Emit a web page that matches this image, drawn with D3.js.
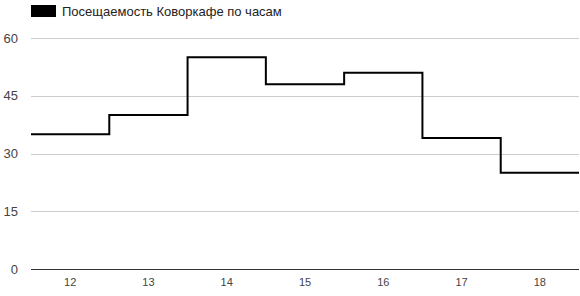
<!DOCTYPE html>
<html>
<head>
<meta charset="utf-8">
<script src="https://cdnjs.cloudflare.com/ajax/libs/d3/7.8.5/d3.min.js"></script>
<style>
  body { margin: 0; background: #fff; }
  svg { display: block; font-family: "Liberation Sans", Arial, sans-serif; }
</style>
</head>
<body>
<svg id="chart" width="580" height="296"></svg>
<script>
const hours = ["12", "13", "14", "15", "16", "17", "18"]
const visitors = [35, 40, 55, 48, 51, 34, 25]
const yTicks = [0, 15, 30, 45, 60]
const seriesName = "Посещаемость Коворкафе по часам"

const width = 580, height = 296
const margin = {top: 38, right: 1, bottom: 27, left: 31}
const innerW = width - margin.left - margin.right
const innerH = height - margin.top - margin.bottom

const svg = d3.select("#chart")

const x = d3.scaleBand().domain(hours).range([0, innerW])
const y = d3.scaleLinear().domain([0, 60]).range([innerH, 0])

const g = svg.append("g")
    .attr("transform", "translate(" + margin.left + "," + margin.top + ")")

// grid lines
g.append("g")
    .selectAll("line")
    .data(yTicks.filter(d => d !== 0))
    .enter()
    .append("line")
    .attr("x1", 0)
    .attr("x2", innerW)
    .attr("y1", d => Math.round(y(d)) + 0.5)
    .attr("y2", d => Math.round(y(d)) + 0.5)
    .attr("stroke", "#cccccc")
    .attr("stroke-width", 1)

// y labels
g.append("g")
    .selectAll("text")
    .data(yTicks)
    .enter()
    .append("text")
    .attr("x", -13)
    .attr("y", d => y(d))
    .attr("dy", "0.35em")
    .attr("text-anchor", "end")
    .attr("fill", "#444")
    .attr("font-size", 13)
    .text(d => d)

// x axis
const xAxis = g.append("g")
    .attr("transform", "translate(0," + innerH + ")")
    .call(d3.axisBottom(x).tickSize(0).tickPadding(9))
xAxis.select(".domain").remove()
xAxis.selectAll("text")
    .attr("fill", "#444")
    .attr("font-size", 11)
    .attr("font-family", "Liberation Sans, Arial, sans-serif")

// step line: each hour holds its value across its band
const pts = []
hours.forEach((h, i) => {
    pts.push([x(h), y(visitors[i])])
    pts.push([x(h) + x.bandwidth(), y(visitors[i])])
})
const line = d3.line()

g.append("path")
    .attr("d", line(pts))
    .attr("fill", "none")
    .attr("stroke", "#000")
    .attr("stroke-width", 2)

// baseline
g.append("line")
    .attr("x1", 0)
    .attr("x2", innerW)
    .attr("y1", innerH + 0.5)
    .attr("y2", innerH + 0.5)
    .attr("stroke", "#333")
    .attr("stroke-width", 1)

// legend
const legend = svg.append("g").attr("transform", "translate(31,5)")
legend.append("rect")
    .attr("width", 25)
    .attr("height", 12)
    .attr("fill", "#000")
legend.append("text")
    .attr("x", 31)
    .attr("y", 11)
    .attr("font-size", 13)
    .attr("fill", "#222")
    .text(seriesName)
</script>
</body>
</html>
